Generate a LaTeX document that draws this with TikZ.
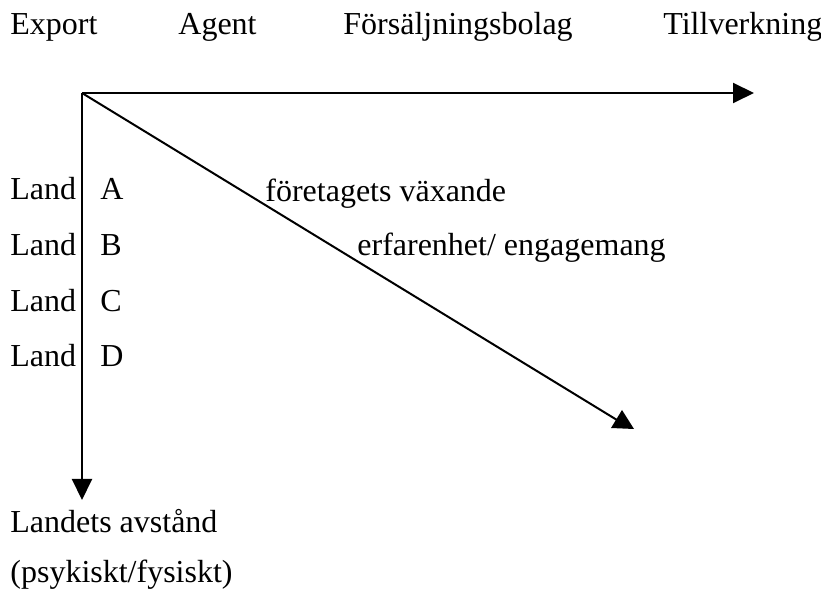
\documentclass[tikz,border=0pt]{standalone}
\usepackage{fontspec}
\setmainfont{Liberation Serif}
\usetikzlibrary{arrows.meta}
\begin{document}
\begin{tikzpicture}[x=0.5pt,y=-0.5pt,
  lbl/.style={anchor=base west, inner sep=0pt, font=\fontsize{16}{19}\selectfont},
  axis/.style={line width=1pt, -{Triangle[length=10.5pt,width=10pt]}},
  thin axis/.style={line width=1pt}]
\useasboundingbox (0,0) rectangle (821,593);

% stages along the top
\node[lbl] (export) at (10,35) {Export};
\node[lbl] (agent) at (178,35) {Agent};
\node[lbl] (bolag) at (343,35) {Försäljningsbolag};
\node[lbl] (tillv) at (663,35) {Tillverkning};

% origin and axis end points
\coordinate (o) at (82,93);
\coordinate (xend) at (754,93);
\coordinate (yend) at (82,500);
\coordinate (dend) at (617,420);

\draw[axis] (o) -- (xend);
\draw[axis] (o) -- (yend);
\draw[thin axis] (o) -- (dend);
\fill (622,410) -- (634,429) -- (611,428) -- cycle;

% countries
\foreach \y/\c [count=\i] in {200/A,256/B,312/C,367/D}{
  \node[lbl] (land\i) at (10,\y) {Land};
  \node[lbl] (c\i) at (100,\y) {\c};
}

\node[lbl] (growth) at (265,202) {företagets växande};
\node[lbl] (exp) at (357,256) {erfarenhet/ engagemang};

\node[lbl] (dist) at (10,533) {Landets avstånd};
\node[lbl] (kind) at (10,583) {(psykiskt/fysiskt)};
\end{tikzpicture}
\end{document}
